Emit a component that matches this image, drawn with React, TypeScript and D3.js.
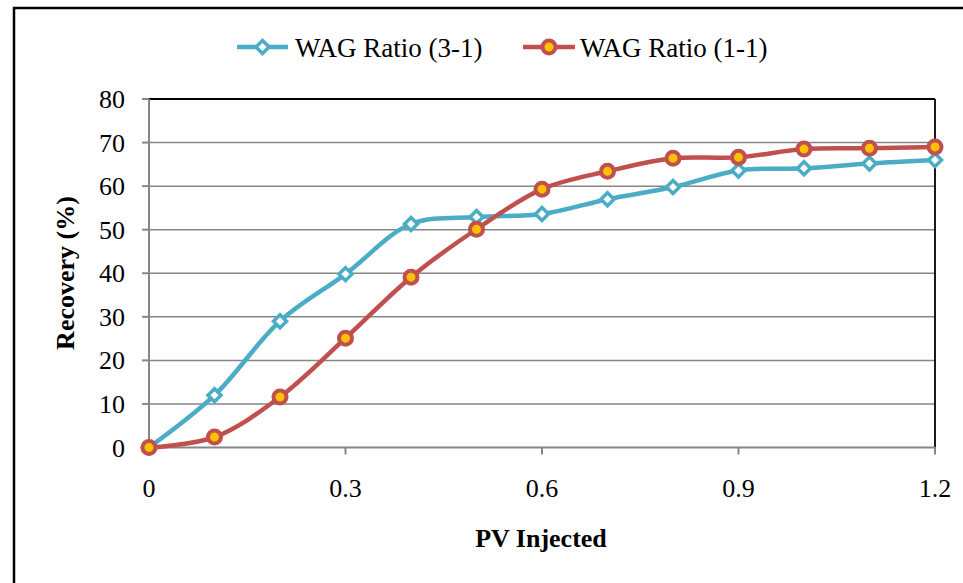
// recovery vs PV injected, two WAG ratios, drawn with d3 scales + JSX
import * as d3 from "d3";

const pvInjected = [0, 0.1, 0.2, 0.3, 0.4, 0.5, 0.6, 0.7, 0.8, 0.9, 1.0, 1.1, 1.2];
const wag31 = [0, 12.0, 29.0, 39.8, 51.3, 52.9, 53.6, 57.0, 59.8, 63.6, 64.1, 65.2, 66.0];
const wag11 = [0, 2.4, 11.6, 25.1, 39.1, 50.1, 59.3, 63.4, 66.4, 66.6, 68.5, 68.7, 69.0];
const xTicks = [0, 0.3, 0.6, 0.9, 1.2];
const yTicks = [0, 10, 20, 30, 40, 50, 60, 70, 80];

const BLUE = "#4BACC6";
const RED = "#C0504D";
const GOLD = "#FFC000";
const GRID = "#868686";
const FONT = "'Liberation Serif', 'Times New Roman', serif";

export default function App() {
  const W = 963;
  const H = 583;
  // plot area edges
  const left = 149;
  const right = 935;
  const top = 99;
  const bottom = 447.5;

  const x = d3.scaleLinear().domain([0, 1.2]).range([left, right]);
  const y = d3.scaleLinear().domain([0, 80]).range([bottom, top]);

  const line = d3
    .line<number>()
    .x((_, i) => x(pvInjected[i]))
    .y((d) => y(d))
    .curve(d3.curveCatmullRom.alpha(0.5));

  const diamond = (cx: number, cy: number, r: number) =>
    `M${cx},${cy - r}L${cx + r},${cy}L${cx},${cy + r}L${cx - r},${cy}Z`;

  return (
    <svg
      width={W}
      height={H}
      style={{ position: "absolute", left: 0, top: 0, background: "#fff" }}
    >
      {/* outer chart frame, runs off the right and bottom edges */}
      <rect x={14} y={8} width={W + 20} height={H + 20} fill="#fff" stroke="#000" strokeWidth={2.5} />

      {/* gridlines */}
      {yTicks
        .filter((t) => t > 0 && t < 80)
        .map((t) => (
          <line key={"g" + t} x1={left} x2={right} y1={y(t)} y2={y(t)} stroke={GRID} strokeWidth={1.5} />
        ))}

      {/* plot border top & right */}
      <line x1={left} x2={right} y1={top} y2={top} stroke="#000" strokeWidth={1.8} />
      <line x1={right} x2={right} y1={top} y2={bottom} stroke="#000" strokeWidth={1.8} />

      {/* axes */}
      <line x1={left} x2={left} y1={top} y2={bottom} stroke={GRID} strokeWidth={2} />
      <line x1={left - 7} x2={right} y1={bottom} y2={bottom} stroke={GRID} strokeWidth={2} />
      {yTicks.map((t) => (
        <g key={"y" + t}>
          <line x1={left - 7} x2={left} y1={y(t)} y2={y(t)} stroke={GRID} strokeWidth={2} />
          <text x={125} y={y(t) + 9} textAnchor="end" fontFamily={FONT} fontSize={26} fill="#000">
            {t}
          </text>
        </g>
      ))}
      {xTicks.map((t) => (
        <g key={"x" + t}>
          <line x1={x(t)} x2={x(t)} y1={bottom} y2={bottom + 7} stroke={GRID} strokeWidth={2} />
          <text x={x(t)} y={497} textAnchor="middle" fontFamily={FONT} fontSize={26} fill="#000">
            {t}
          </text>
        </g>
      ))}

      {/* axis titles */}
      <text x={541} y={547} textAnchor="middle" fontFamily={FONT} fontSize={26} fontWeight="bold" fill="#000">
        PV Injected
      </text>
      <text
        transform="translate(74,273) rotate(-90)"
        textAnchor="middle"
        fontFamily={FONT}
        fontSize={26}
        fontWeight="bold"
        fill="#000"
      >
        Recovery (%)
      </text>

      {/* series lines */}
      <path d={line(wag31) ?? ""} fill="none" stroke={BLUE} strokeWidth={4.5} />
      <path d={line(wag11) ?? ""} fill="none" stroke={RED} strokeWidth={4.5} />

      {/* markers */}
      {wag31.map((d, i) => (
        <path key={"b" + i} d={diamond(x(pvInjected[i]), y(d), 6.5)} fill="#fff" stroke={BLUE} strokeWidth={3.5} />
      ))}
      {wag11.map((d, i) => (
        <circle key={"r" + i} cx={x(pvInjected[i])} cy={y(d)} r={6.5} fill={GOLD} stroke={RED} strokeWidth={4} />
      ))}

      {/* legend */}
      <line x1={237} x2={288} y1={47} y2={47} stroke={BLUE} strokeWidth={4.5} />
      <path d={diamond(262.5, 47, 6.5)} fill="#fff" stroke={BLUE} strokeWidth={3.5} />
      <text x={295} y={57} fontFamily={FONT} fontSize={27} fill="#000">
        WAG Ratio (3-1)
      </text>
      <line x1={523} x2={575} y1={47} y2={47} stroke={RED} strokeWidth={4.5} />
      <circle cx={549} cy={47} r={6.5} fill={GOLD} stroke={RED} strokeWidth={4} />
      <text x={580} y={57} fontFamily={FONT} fontSize={27} fill="#000">
        WAG Ratio (1-1)
      </text>
    </svg>
  );
}
